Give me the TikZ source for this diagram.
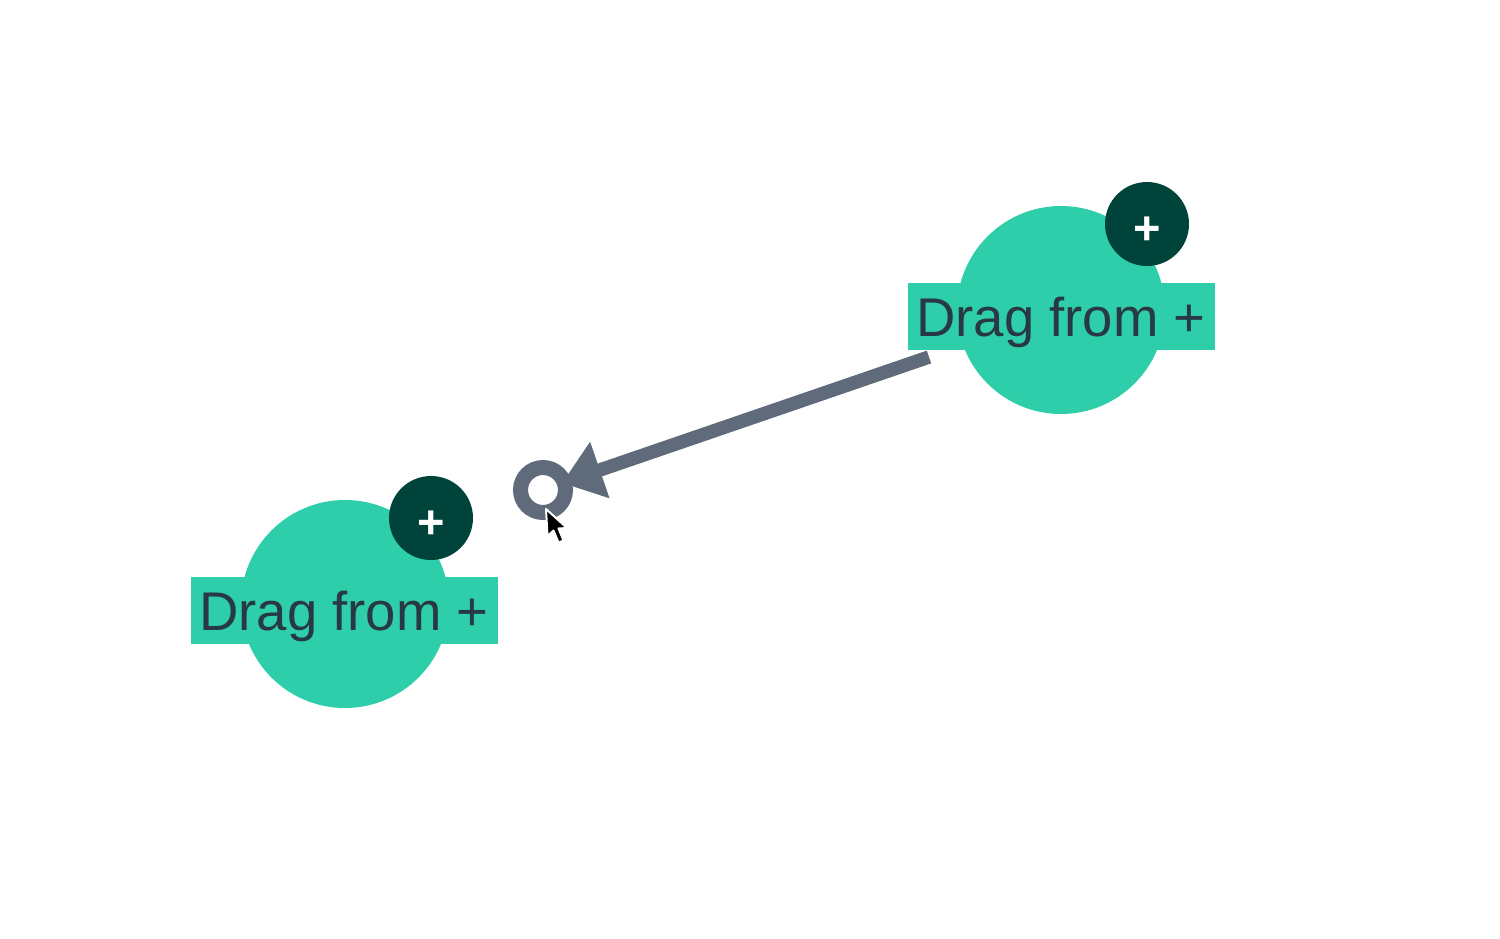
\documentclass[tikz,border=0pt]{standalone}
\usepackage{fontspec}
\setmainfont{Liberation Sans}
\usetikzlibrary{arrows.meta}
\definecolor{nodegreen}{HTML}{2DCEA9}
\definecolor{btndark}{HTML}{00433B}
\definecolor{edgegray}{HTML}{5F6B7A}
\definecolor{labeltext}{HTML}{283845}
\begin{document}
\begin{tikzpicture}[x=1pt,y=-1pt,
  bignode/.style={circle,fill=nodegreen,minimum size=208pt,inner sep=0pt},
  labelbox/.style={rectangle,fill=nodegreen,minimum width=307pt,minimum height=67pt,inner sep=0pt,
    text=labeltext,font=\fontsize{54.5}{60}\selectfont,text height=40pt,text depth=0pt},
  plusbtn/.style={circle,fill=btndark,minimum size=84pt,inner sep=0pt,text=white,
    font=\fontsize{47}{50}\selectfont\bfseries,text height=40pt,text depth=0pt},
  edge/.style={draw=edgegray,line width=13.5pt},
  ringhandle/.style={circle,draw=edgegray,line width=15pt,fill=white,minimum size=45pt,inner sep=0pt}
]
\useasboundingbox (0,0) rectangle (1500,938);
% node 1
\node[bignode] (n1) at (1061,310) {};
\node[labelbox] (l1) at (1061,316.5) {Drag from +};
\node[plusbtn] (p1) at (1147,224) {+};
% node 2
\node[bignode] (n2) at (345,604) {};
\node[labelbox] (l2) at (344,610.5) {Drag from +};
\node[plusbtn] (p2) at (431,518) {+};
% dragging edge
\coordinate (es) at (929,357);
\node[ringhandle] (ring) at (543,490) {};
\coordinate (tip) at (562,483);
\draw[edge,-{Triangle[length=40pt,width=57pt]}] (es) -- (tip);
% cursor
\filldraw[fill=black,draw=white,line width=2pt,line join=round]
  (546,509) -- (547.5,536) -- (553.5,530.5) -- (558.5,542.5) -- (563.5,540.5) -- (558.5,528.5) -- (567,528) -- cycle;
\end{tikzpicture}
\end{document}
